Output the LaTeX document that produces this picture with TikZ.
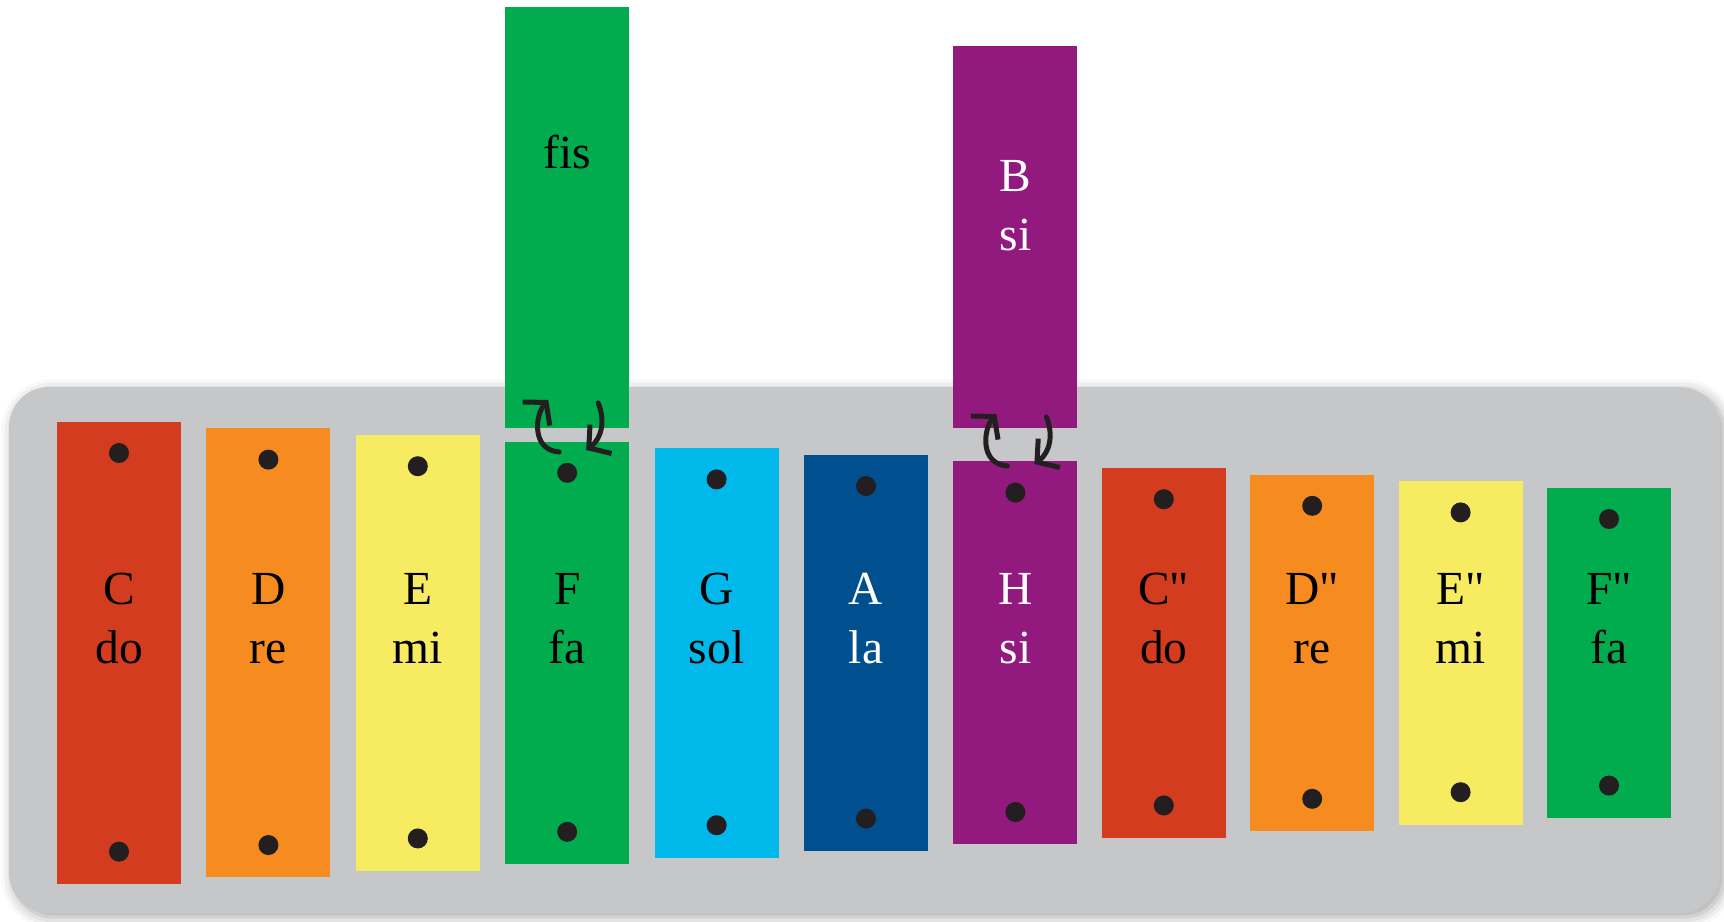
\documentclass[tikz,border=0pt]{standalone}
\usepackage{fontspec}
\setmainfont{Liberation Serif}[Ligatures=TeXOff]
\usetikzlibrary{arrows.meta,shadows.blur}
\definecolor{cred}{RGB}{211,60,31}
\definecolor{corange}{RGB}{246,139,31}
\definecolor{cyellow}{RGB}{246,235,97}
\definecolor{cgreen}{RGB}{0,172,78}
\definecolor{ccyan}{RGB}{0,185,234}
\definecolor{cblue}{RGB}{0,80,143}
\definecolor{cpurple}{RGB}{146,25,126}
\definecolor{cgray}{RGB}{198,199,201}
\definecolor{cdot}{RGB}{35,31,32}
\tikzset{
    bar/.style={rectangle,anchor=north,minimum width=1.24cm,inner sep=0pt,draw=none},
    tone/.style={anchor=base,align=center,inner sep=0pt,font=\fontsize{13.5}{16.5}\selectfont},
    swaparrow/.style={draw=cdot,line width=0.5mm,line cap=round,-{Straight Barb[length=1.5mm,width=3.6mm]}},
    swap/.pic={
        \draw[swaparrow] (-8,18) .. controls (-36,16) and (-32,-19) .. (-19,-34);
        \draw[swaparrow] (31,-31) .. controls (38,-14) and (35,4) .. (19,16);
    }
}
\begin{document}
\begin{tikzpicture}[x=0.01cm,y=-0.01cm]
    \useasboundingbox (0,0) rectangle (1724,921);
    \fill[cgray,rounded corners=0.4cm,blur shadow={shadow xshift=0.4mm,shadow yshift=-0.4mm,shadow blur radius=1.2mm,shadow opacity=35}] (9,387) rectangle (1720,913);

    \begin{scope}[every node/.style={bar}]
        \node[fill=cred,minimum height=4.62cm] (C) at (119,421) {};
        \node[fill=corange,minimum height=4.488cm] (D) at (268.4,427.6) {};
        \node[fill=cyellow,minimum height=4.356cm] (E) at (417.8,434.2) {};
        \node[fill=cgreen,minimum height=4.224cm] (F) at (567.2,440.8) {};
        \node[fill=ccyan,minimum height=4.092cm] (G) at (716.6,447.4) {};
        \node[fill=cblue,minimum height=3.96cm] (A) at (866,454) {};
        \node[fill=cpurple,minimum height=3.828cm] (H) at (1015.4,460.6) {};
        \node[fill=cred,minimum height=3.696cm] (C2) at (1163.8,467.2) {};
        \node[fill=corange,minimum height=3.564cm] (D2) at (1312.2,473.8) {};
        \node[fill=cyellow,minimum height=3.432cm] (E2) at (1460.6,480.4) {};
        \node[fill=cgreen,minimum height=3.30cm] (F2) at (1609,487) {};
        \node[fill=cgreen,minimum height=4.21cm] (Fis) at (567.2,6) {};
        \node[fill=cpurple,minimum height=3.82cm] (B) at (1015.4,45) {};
    \end{scope}

    \foreach \n in {C,D,E,F,G,A,H,C2,D2,E2,F2}{
        \fill[cdot] ([yshift=-3.2mm]\n.north) circle[radius=1mm];
        \fill[cdot] ([yshift=3.3mm]\n.south) circle[radius=1mm];
    }

    \begin{scope}[every node/.style={tone}]
        \node (Cl) at (119,663) {C\\do};
        \node (Dl) at (268.4,663) {D\\re};
        \node (El) at (417.8,663) {E\\mi};
        \node (Fl) at (567.2,663) {F\\fa};
        \node (Gl) at (716.6,663) {G\\sol};
        \node[white] (Al) at (866,663) {A\\la};
        \node[white] (Hl) at (1015.4,663) {H\\si};
        \node (C2l) at (1163.8,663) {C"\\do};
        \node (D2l) at (1312.2,663) {D"\\re};
        \node (E2l) at (1460.6,663) {E"\\mi};
        \node (F2l) at (1609,663) {F"\\fa};
        \node (Fisl) at (567.2,168) {fis};
        \node[white] (Bl) at (1015.4,250) {B\\si};
    \end{scope}

    \coordinate (swapF) at (567.2,434);
    \coordinate (swapH) at (1015.4,448);
    \pic at (swapF) {swap};
    \pic at (swapH) {swap};
\end{tikzpicture}
\end{document}
